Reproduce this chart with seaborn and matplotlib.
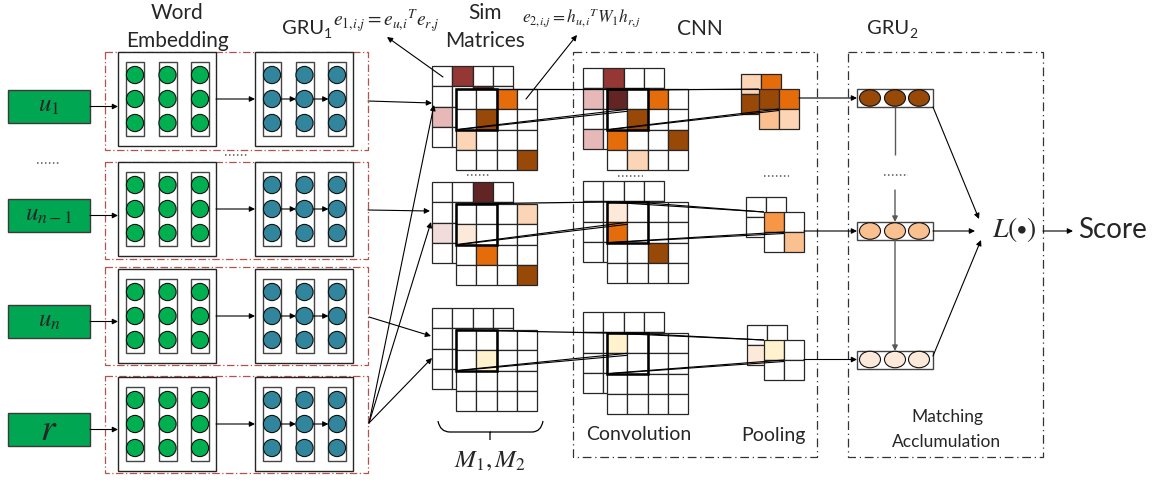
import seaborn as sns
import matplotlib.pyplot as plt
from matplotlib.patches import Rectangle, Circle, Ellipse, PathPatch
from matplotlib.path import Path

sns.set_theme(style="white")
plt.rcParams['font.family'] = ['Lato', 'DejaVu Sans']
plt.rcParams['mathtext.fontset'] = 'stix'

# ---------------- data ----------------
input_labels = [r"$u_1$", r"$u_{n-1}$", r"$u_n$", r"$r$"]
input_sizes = [18, 18, 18, 27]

PAL = {"w": "white", "R": "#953735", "D": "#632523", "p": "#E6B9B8",
       "q": "#F2DCDB", "O": "#E46C0A", "B": "#984807", "P": "#FBD5B5",
       "L": "#FDE9D9", "Y": "#FFF2CC", "S": "#FAC090", "o": "#F79646"}

# similarity matrices (back = M1, front = M2)
sim_back = [["wRww", "wwDw", "pwww", "wwww"],
            ["wwDw", "wwww", "qwww", "wwww"],
            ["wwww", "wwww", "wwww", "wwww"]]
sim_front = [["wwOw", "wBww", "Pwww", "wwwB"],
             ["wwwP", "Lwww", "wOww", "wwwB"],
             ["wwww", "wYww", "wwww", "wwww"]]
# convolution feature maps
conv_back = [["wRww", "pwww", "wwww", "pwww"],
             ["wwww", "wwww", "wwww", "wwww"],
             ["wwww", "wwww", "wwww", "wwww"]]
conv_front = [["DwOw", "wBww", "OwwB", "wPww"],
              ["Lwww", "Owww", "wwBw", "wwww"],
              ["Ywww", "wwww", "wwww", "wwww"]]
# pooling outputs
pool_back = [["PO", "Bw"], ["ww", "ww"], ["ww", "Lw"]]
pool_front = [["BO", "SP"], ["ow", "wS"], ["Yw", "ww"]]
# matching vectors of GRU2
gru2_colors = ["#984807", "#FAC090", "#FDE9D9"]

WE_GREEN = "#00B050"
GRU_TEAL = "#31859C"
BOX_GREEN = "#00A651"

# ---------------- layout ----------------
row_tops = [52, 162, 269, 377]
input_mid = [106.5, 215.5, 321.5, 429.5]
red_box = [(52, 150), (162, 259), (267, 365), (376, 473)]
sim_top = [(66, 89), (182, 204), (308, 330)]
conv_top = [(68, 89), (181, 202), (312, 333)]
pool_pos = [((741, 74), (759, 89)), ((746, 197), (764, 212)), ((747, 325), (764, 340))]
gru2_mid = [98, 231, 359.5]
C = 20.3

fig = plt.figure(figsize=(11.59, 4.8), dpi=100)
ax = fig.add_axes([0, 0, 1, 1])
ax.set_xlim(0, 1159)
ax.set_ylim(480, 0)
ax.axis("off")


def arrow(x0, y0, x1, y1, color="black", lw=0.8, head=True, z=10):
    ax.annotate("", xy=(x1, y1), xytext=(x0, y0),
                arrowprops=dict(arrowstyle="-|>" if head else "-", color=color, lw=lw,
                                shrinkA=0, shrinkB=0, mutation_scale=8), zorder=z)


def line(xs, ys, color="black", lw=0.8, z=10):
    ax.plot(xs, ys, color=color, lw=lw, zorder=z, solid_capstyle="butt")


def dots(x0, x1, y):
    ax.plot([x0, x1], [y, y], ls=(0, (1, 1.6)), color="#555555", lw=1.1)


def grid(x0, y0, codes, c, z):
    for r, row in enumerate(codes):
        for k, ch in enumerate(row):
            ax.add_patch(Rectangle((x0 + k * c, y0 + r * c), c, c, fc=PAL[ch],
                                   ec="#262626", lw=0.9, zorder=z))


def right_edge(t):
    fig.canvas.draw()
    bb = t.get_window_extent(fig.canvas.get_renderer())
    return ax.transData.inverted().transform((bb.x1, bb.y0))[0]


# ---------------- left part: inputs, embedding, GRU1 ----------------
for i, top in enumerate(row_tops):
    y0, y1 = red_box[i]
    ax.add_patch(Rectangle((105, y0), 263, y1 - y0, fill=False, ec="#B5524E",
                           lw=0.9, ls=(0, (6, 2, 1, 2)), zorder=1))
    yc = input_mid[i]
    ax.add_patch(Rectangle((8, yc - 16.5), 82, 33, fc=BOX_GREEN, ec="#3a3a3a", lw=1, zorder=2))
    ax.text(49, yc - 1, input_labels[i], fontsize=input_sizes[i], ha="center", va="center", zorder=3)
    arrow(90, yc, 118, yc)
    for bx, fc in [(118, WE_GREEN), (255, GRU_TEAL)]:
        ax.add_patch(Rectangle((bx, top), 98, 94, fc="white", ec="#262626", lw=1, zorder=2))
        cxs = []
        for k in range(3):
            colx = bx + 8 + k * 32.5
            ax.add_patch(Rectangle((colx, top + 10), 18, 74, fc="white", ec="#444444", lw=1, zorder=3))
            for m in range(3):
                ax.add_patch(Circle((colx + 9, top + 23 + m * 24), 8.6, fc=fc, ec="#111111",
                                    lw=0.8, zorder=4))
            cxs.append(colx + 9)
        if fc == GRU_TEAL:
            for k in range(2):
                arrow(cxs[k] + 8.6, top + 47, cxs[k + 1] - 8.6, top + 47, z=5)
    arrow(216, top + 47, 255, top + 47)

dots(37, 60, 163)
dots(225, 248, 155)

# GRU1 -> similarity matrices
arrow(368, 101, 432, 103)
arrow(368, 210, 430, 211)
arrow(369, 317, 431, 336)
for tx, ty in [(434, 105), (431, 222), (432, 358)]:
    arrow(369, 423, tx, ty)

# ---------------- similarity matrices / CNN / pooling ----------------
for i in range(3):
    sb, sf = sim_top[i]
    cb, cf = conv_top[i]
    grid(432, sb, sim_back[i], C, 6)
    grid(456, sf, sim_front[i], C, 7)
    ax.add_patch(Rectangle((456, sf), 2 * C, 2 * C, fill=False, ec="black", lw=1.8, zorder=8))
    grid(583, cb, conv_back[i], C, 6)
    grid(607, cf, conv_front[i], C, 7)
    ax.add_patch(Rectangle((607, cf), 2 * C, 2 * C, fill=False, ec="black", lw=1.8, zorder=8))
    (pbx, pby), (pfx, pfy) = pool_pos[i]
    grid(pbx, pby, pool_back[i], 20, 6)
    grid(pfx, pfy, pool_front[i], 20, 7)
    # projection lines sim -> conv
    line([456, 607], [sf, cf], lw=0.9)
    line([456, 607 + C], [sf + 2 * C, cf + C], lw=0.8)
    line([459, 607 + C], [sf + 2 * C, cf + C + 2], lw=0.8)
    # projection lines conv -> pool
    line([607, pfx], [cf, pfy], lw=0.8)
    line([607 + 2 * C, pfx], [cf + 1, pfy], lw=0.8)
    line([607, pfx + 20], [cf + 2 * C, pfy + 20], lw=0.8)
    line([610, pfx + 20], [cf + 2 * C, pfy + 21.5], lw=0.8)
    # pool -> GRU2
    arrow(pfx + 40, gru2_mid[i], 857, gru2_mid[i])

dots(467, 490, 175)
dots(618, 643, 176)
dots(764, 789, 176)

# formula pointers
arrow(443, 77, 387, 37)
arrow(526, 99, 577, 35)

# brace under sim matrices
verts = [(438, 421), (440, 432), (450, 432), (484, 432), (490, 432), (490, 440),
         (490, 432), (496, 432), (532, 432), (541, 432), (543, 421)]
codes = [Path.MOVETO, Path.CURVE3, Path.CURVE3, Path.LINETO, Path.LINETO, Path.LINETO,
         Path.MOVETO, Path.LINETO, Path.LINETO, Path.CURVE3, Path.CURVE3]
ax.add_patch(PathPatch(Path(verts, codes), fill=False, ec="black", lw=0.9))

# CNN and GRU2 dash-dot frames
ax.add_patch(Rectangle((573, 52), 244, 405, fill=False, ec="#333333", lw=0.9,
                       ls=(0, (7, 3, 1, 3)), zorder=1))
ax.add_patch(Rectangle((848, 52), 195, 405, fill=False, ec="#333333", lw=0.9,
                       ls=(0, (7, 3, 1, 3)), zorder=1))

# ---------------- GRU2 ----------------
for i, yc in enumerate(gru2_mid):
    ax.add_patch(Rectangle((857, yc - 9), 76, 18, fc="white", ec="#444444", lw=1, zorder=3))
    for cx in [870, 895, 919]:
        ax.add_patch(Ellipse((cx, yc), 21, 16.5, fc=gru2_colors[i], ec="#111111", lw=0.8, zorder=4))

line([895, 895], [107, 155], color="#595959", lw=1)
dots(884, 908, 175)
arrow(895, 190, 895, 222, color="#595959", lw=1)
arrow(895, 240, 895, 351, color="#595959", lw=1)

arrow(933, 107, 979, 219)
arrow(933, 231, 975, 231)
arrow(933, 356, 981, 240)
arrow(1043, 231, 1073, 231)

# ---------------- text ----------------
ax.text(177, 13, "Word", fontsize=15, ha="center", va="center")
ax.text(177, 41, "Embedding", fontsize=15, ha="center", va="center")
g1 = ax.text(282, 28, "GRU", fontsize=14.5, ha="left", va="center")
s1 = ax.text(right_edge(g1), 34, "1", fontsize=10, ha="left", va="center")
ax.text(right_edge(s1) + 0.5, 21, r"$e_{1,\!i,\!j}=e_{u,\!i}{}^{T}e_{r,\!j}$", fontsize=14,
        ha="left", va="center")
ax.text(485, 13, "Sim", fontsize=15, ha="center", va="center")
ax.text(485, 41, "Matrices", fontsize=15, ha="center", va="center")
ax.text(522, 18, r"$e_{2,\!i,\!j}=h_{u,\!i}{}^{T}W_1h_{r,\!j}$", fontsize=12.5, ha="left", va="center")
ax.text(700, 29, "CNN", fontsize=15, ha="center", va="center")
g2 = ax.text(867, 28, "GRU", fontsize=14.5, ha="left", va="center")
ax.text(right_edge(g2), 34, "2", fontsize=10, ha="left", va="center")
ax.text(639, 435, "Convolution", fontsize=14, ha="center", va="center")
ax.text(773, 435, "Pooling", fontsize=14, ha="center", va="center")
ax.text(947, 417, "Matching", fontsize=12.5, ha="center", va="center")
ax.text(947, 442, "Acclumulation", fontsize=12.5, ha="center", va="center")
ax.text(490, 461, r"$M_1,M_2$", fontsize=18, ha="center", va="center")
ax.text(1014, 230, r"$L(\bullet)$", fontsize=20, ha="center", va="center")
ax.text(1078, 230, "Score", fontsize=20, ha="left", va="center")

fig.savefig("out.png", dpi=100)
